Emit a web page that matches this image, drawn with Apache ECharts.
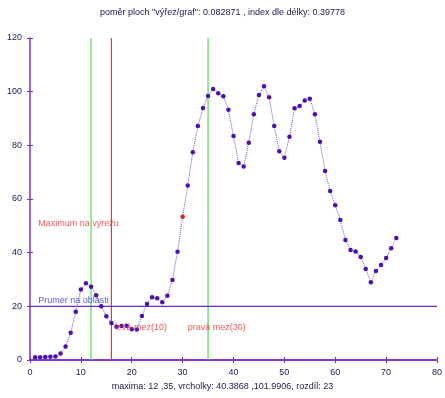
<!DOCTYPE html>
<html>
    <head>
        <meta charset="utf-8">
        <script src="https://cdn.jsdelivr.net/npm/echarts@6/dist/echarts.min.js"></script>
    </head>
    <body style="margin:0">
        <style>
            html, body, #main {
                width: 445px;
                height: 398px;
                margin: 0;
            }
        </style>
        <div id="main"></div>
        <script>
            // profil, x = 1..72
            var xs = [];
            for (var i = 1; i <= 72; i++) {
                xs.push(i);
            }
            var values = [
                1.0, 1.0, 1.1, 1.2, 1.3, 2.4, 5.0, 10.2, 18.0, 26.3,
                28.6, 27.3, 24.1, 20.0, 16.3, 13.8, 12.4, 12.7, 12.8, 11.5,
                11.4, 16.4, 20.9, 23.4, 23.0, 21.5, 23.9, 29.8, 40.3868, 53.4,
                65.0, 77.4, 87.2, 93.9, 98.4, 101.0, 99.4, 98.3, 93.3, 83.5,
                73.4, 72.1, 81.0, 91.6, 98.8, 101.9906, 97.9, 87.2, 77.8, 75.4,
                83.2, 93.8, 94.7, 96.7, 97.4, 91.6, 81.3, 70.4, 63.0, 57.7,
                52.2, 44.7, 41.0, 40.4, 38.4, 33.9, 29.0, 33.2, 35.4, 38.0,
                41.6, 45.5
            ];
            var redPoint = 30;

            var greenLines = [12, 35];
            var redLines = [16];
            var meanLevel = 20;
            var yRange = [0, 120];
            var xRange = [0, 80];

            // popisky [x, y, text]
            var redTexts = [
                [1.6, 51, 'Maximum na vyrezu'],
                [16.7, 12, 'levá mez(10)'],
                [31, 12, 'pravá mez(30)']
            ];
            var blueTexts = [
                [1.6, 22.3, 'Prumer na oblasti']
            ];

            var titleText = 'poměr ploch "výřez/graf": 0.082871 , index dle délky: 0.39778';
            var footText = 'maxima: 12 ,35, vrcholky: 40.3868 ,101.9906, rozdíl: 23';

            var axisColor = '#7a30d0';
            var font = 'Liberation Sans, Arial, sans-serif';

            var chart = echarts.init(document.getElementById('main'), null, {renderer: 'canvas'});

            var points = xs.map(function (x, i) {
                var p = {value: [x, values[i]]};
                if (x === redPoint) {
                    p.itemStyle = {color: '#e02020'};
                }
                return p;
            });

            function guide(data, color) {
                return {
                    type: 'line',
                    data: data,
                    symbol: 'none',
                    silent: true,
                    lineStyle: {color: color, width: 1.2, type: 'solid', opacity: 1},
                    emphasis: {disabled: true},
                    z: 2
                };
            }

            var guides = [];
            greenLines.forEach(function (x) {
                guides.push(guide([[x, yRange[0]], [x, yRange[1]]], '#50e050'));
            });
            redLines.forEach(function (x) {
                guides.push(guide([[x, yRange[0]], [x, yRange[1]]], '#ff3030'));
            });
            guides.push(guide([[xRange[0], meanLevel], [xRange[1], meanLevel]], '#6a28c8'));

            function textSeries(list, color) {
                return {
                    type: 'scatter',
                    symbolSize: 0,
                    silent: true,
                    data: list.map(function (t) { return {value: [t[0], t[1]], name: t[2]}; }),
                    label: {
                        show: true,
                        position: 'right',
                        distance: 0,
                        formatter: '{b}',
                        color: color,
                        fontSize: 9,
                        fontFamily: font
                    },
                    z: 5
                };
            }

            var axisLabel = {color: '#1a1a4a', fontSize: 9, fontFamily: font};

            chart.setOption({
                animation: false,
                backgroundColor: '#fff',
                title: [
                    {
                        text: titleText,
                        left: 'center',
                        top: 3,
                        textStyle: {fontSize: 9, fontWeight: 'normal', color: '#1a1a4a', fontFamily: font}
                    },
                    {
                        text: footText,
                        left: 'center',
                        top: 377,
                        textStyle: {fontSize: 9, fontWeight: 'normal', color: '#1a1a4a', fontFamily: font}
                    }
                ],
                grid: {left: 30, right: 7, top: 38, bottom: 38},
                xAxis: [
                    {
                        type: 'value',
                        min: xRange[0],
                        max: xRange[1],
                        interval: 10,
                        axisLine: {show: true, lineStyle: {color: axisColor, width: 1.5}},
                        axisTick: {show: true, inside: true, length: 3, lineStyle: {color: axisColor}},
                        axisLabel: axisLabel,
                        splitLine: {show: false}
                    },
                    {
                        type: 'value',
                        position: 'top',
                        min: xRange[0],
                        max: xRange[1],
                        interval: 10,
                        axisLine: {show: true, lineStyle: {color: axisColor, width: 1.5}},
                        axisTick: {show: true, inside: true, length: 3, lineStyle: {color: axisColor}},
                        axisLabel: {show: false},
                        splitLine: {show: false}
                    }
                ],
                yAxis: [
                    {
                        type: 'value',
                        min: yRange[0],
                        max: yRange[1],
                        interval: 20,
                        axisLine: {show: true, lineStyle: {color: axisColor, width: 1.5}},
                        axisTick: {show: true, inside: true, length: 3, lineStyle: {color: axisColor}},
                        axisLabel: axisLabel,
                        splitLine: {show: false}
                    },
                    {
                        type: 'value',
                        position: 'right',
                        min: yRange[0],
                        max: yRange[1],
                        interval: 20,
                        axisLine: {show: false},
                        axisTick: {show: true, inside: true, length: 3, lineStyle: {color: axisColor}},
                        axisLabel: {show: false},
                        splitLine: {show: false}
                    }
                ],
                series: guides.concat([
                    {
                        type: 'line',
                        data: points,
                        symbol: 'circle',
                        symbolSize: 4.5,
                        itemStyle: {color: '#4a10b0'},
                        lineStyle: {color: '#7a50d8', width: 1, type: 'dotted'},
                        emphasis: {disabled: true},
                        z: 3
                    },
                    textSeries(redTexts, '#f03030'),
                    textSeries(blueTexts, '#3030e0')
                ])
            });
        </script>
    </body>
</html>
